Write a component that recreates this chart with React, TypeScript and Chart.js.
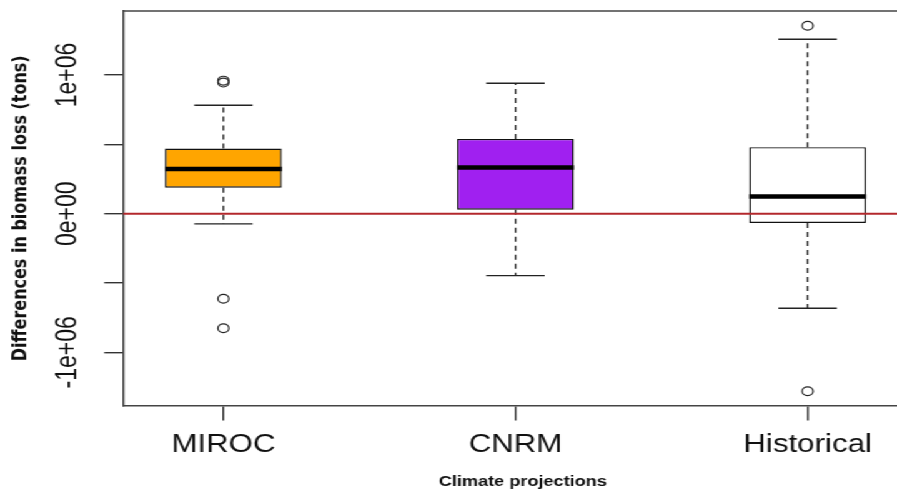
import React, { useEffect, useRef } from 'react';
import { Chart, registerables } from 'chart.js';

Chart.register(...registerables);

// ---- data ----
const categories = ['MIROC', 'CNRM', 'Historical'];
const positions = [1, 2, 3];
const lowerWhisker = [-74000, -447000, -682000];
const q1 = [187000, 29000, -67000];
const median = [322000, 332000, 123000];
const q3 = [469000, 539000, 479000];
const upperWhisker = [782000, 940000, 1257000];
const outliersMIROC = [959000, 945000, -613000, -826000];
const outliersCNRM: number[] = [];
const outliersHistorical = [1355000, -1280000];
const boxColors = ['#FFA500', '#A020F0', '#FFFFFF'];
const yTickValues = [-1000000, -500000, 0, 500000, 1000000];
const yTickLabels = ['-1e+06', '', '0e+00', '', '1e+06'];
const referenceValue = 0;
const xTitle = 'Climate projections';
const yTitle = 'Differences in biomass loss (tons)';

// ---- axis limits / geometry (not data) ----
const X_MIN = 0.656;
const X_MAX = 3.306;
const Y_MIN = -1383000;
const Y_MAX = 1461000;
const BOX_HALF = 0.2;
const CAP_HALF = 0.1;
const CANVAS_W = 718;
const CANVAS_H = 492;
const STRETCH = 897 / CANVAS_W;

const outlierGroups = [outliersMIROC, outliersCNRM, outliersHistorical];

const framePlugin = {
  id: 'framePlugin',
  afterDraw(chart: any) {
    const { ctx, chartArea, scales } = chart;
    ctx.save();
    // top frame line
    ctx.strokeStyle = '#444';
    ctx.lineWidth = 1.5;
    ctx.beginPath();
    ctx.moveTo(chartArea.left, chartArea.top);
    ctx.lineTo(chartArea.right, chartArea.top);
    ctx.stroke();
    // rotated y tick labels
    ctx.fillStyle = '#111';
    ctx.font = '23px "Liberation Sans", Arial, sans-serif';
    ctx.textAlign = 'center';
    ctx.textBaseline = 'middle';
    yTickValues.forEach((v, i) => {
      const label = yTickLabels[i];
      if (!label) return;
      const py = scales.y.getPixelForValue(v);
      ctx.save();
      ctx.translate(chartArea.left - 44, py);
      ctx.rotate(-Math.PI / 2);
      ctx.fillText(label, 0, 0);
      ctx.restore();
    });
    // x title
    ctx.font = 'bold 14.5px "Liberation Sans", Arial, sans-serif';
    ctx.fillStyle = '#111';
    ctx.textAlign = 'center';
    ctx.textBaseline = 'alphabetic';
    ctx.fillText(xTitle, 418.5, 486);
    ctx.restore();
  },
};

export default function App() {
  const canvasRef = useRef<HTMLCanvasElement | null>(null);

  useEffect(() => {
    const canvas = canvasRef.current;
    if (!canvas) return;

    const boxData = positions.map((p, i) => ({ x: p, y: [q1[i], q3[i]] }));
    const whiskerData: any[] = [];
    const capData: any[] = [];
    const medianData: any[] = [];
    const outlierData: any[] = [];
    positions.forEach((p, i) => {
      whiskerData.push({ x: p, y: q3[i] }, { x: p, y: upperWhisker[i] }, { x: p, y: null });
      whiskerData.push({ x: p, y: q1[i] }, { x: p, y: lowerWhisker[i] }, { x: p, y: null });
      capData.push({ x: p - CAP_HALF, y: upperWhisker[i] }, { x: p + CAP_HALF, y: upperWhisker[i] }, { x: p, y: null });
      capData.push({ x: p - CAP_HALF, y: lowerWhisker[i] }, { x: p + CAP_HALF, y: lowerWhisker[i] }, { x: p, y: null });
      medianData.push({ x: p - BOX_HALF, y: median[i] }, { x: p + BOX_HALF, y: median[i] }, { x: p, y: null });
      outlierGroups[i].forEach((v) => outlierData.push({ x: p, y: v }));
    });

    const chart = new Chart(canvas, {
      type: 'bar',
      data: {
        datasets: [
          {
            type: 'bar',
            data: boxData as any,
            backgroundColor: boxColors,
            borderColor: '#111',
            borderWidth: 1.4,
            borderSkipped: false,
            categoryPercentage: 2 * BOX_HALF,
            barPercentage: 1,
            order: 3,
          } as any,
          {
            type: 'line',
            data: whiskerData,
            borderColor: '#222',
            borderWidth: 1.3,
            borderDash: [5, 4],
            pointRadius: 0,
            spanGaps: false,
            order: 5,
          } as any,
          {
            type: 'line',
            data: capData,
            borderColor: '#222',
            borderWidth: 1.4,
            pointRadius: 0,
            spanGaps: false,
            order: 4,
          } as any,
          {
            type: 'line',
            data: medianData,
            borderColor: '#000',
            borderWidth: 4.5,
            borderCapStyle: 'butt',
            pointRadius: 0,
            spanGaps: false,
            order: 2,
          } as any,
          {
            type: 'scatter',
            data: outlierData,
            pointRadius: 4.4,
            pointBorderWidth: 1.2,
            pointBorderColor: '#222',
            pointBackgroundColor: 'rgba(255,255,255,0)',
            order: 1,
          } as any,
          {
            type: 'line',
            data: [
              { x: X_MIN, y: referenceValue },
              { x: X_MAX, y: referenceValue },
            ],
            borderColor: '#B3282C',
            borderWidth: 2,
            pointRadius: 0,
            order: 0,
          } as any,
        ],
      },
      options: {
        animation: false,
        responsive: false,
        maintainAspectRatio: false,
        devicePixelRatio: 1,
        layout: { autoPadding: false, padding: { top: 11, left: 0, right: 0, bottom: 0 } },
        plugins: {
          legend: { display: false },
          tooltip: { enabled: false },
        },
        scales: {
          x: {
            type: 'linear',
            min: X_MIN,
            max: X_MAX,
            offset: false,
            afterBuildTicks: (s: any) => {
              s.ticks = positions.map((v) => ({ value: v }));
            },
            afterFit: (s: any) => {
              s.height = 86.5;
              s.paddingLeft = 0;
              s.paddingRight = 0;
            },
            ticks: {
              autoSkip: false,
              maxRotation: 0,
              minRotation: 0,
              padding: 10,
              color: '#111',
              font: { family: '"Liberation Sans", Arial, sans-serif', size: 25 },
              callback: (v: any) => {
                const idx = positions.indexOf(Number(v));
                return idx >= 0 ? categories[idx] : '';
              },
            },
            grid: {
              drawOnChartArea: false,
              drawTicks: true,
              tickLength: 15,
              color: '#333',
              lineWidth: 1.4,
              offset: false,
            },
            border: { display: true, color: '#444', width: 1.5 },
          } as any,
          y: {
            type: 'linear',
            min: Y_MIN,
            max: Y_MAX,
            afterBuildTicks: (s: any) => {
              s.ticks = yTickValues.map((v) => ({ value: v }));
            },
            afterFit: (s: any) => {
              s.width = 98.4;
              s.paddingTop = 0;
              s.paddingBottom = 0;
            },
            ticks: { display: false },
            grid: {
              drawOnChartArea: false,
              drawTicks: true,
              tickLength: 15,
              color: '#333',
              lineWidth: 1.4,
            },
            border: { display: true, color: '#444', width: 1.5 },
            title: {
              display: true,
              text: yTitle,
              color: '#111',
              font: { family: '"DejaVu Sans", sans-serif', size: 16, weight: 'bold' },
              padding: { top: 7, bottom: 0 },
            },
          } as any,
        },
      },
      plugins: [framePlugin],
    });

    return () => chart.destroy();
  }, []);

  return (
    <div
      style={{
        position: 'fixed',
        left: 0,
        top: 0,
        width: CANVAS_W,
        height: CANVAS_H,
        background: '#fff',
        transform: `scale(${STRETCH}, 1)`,
        transformOrigin: '0 0',
      }}
    >
      <canvas
        ref={canvasRef}
        width={CANVAS_W}
        height={CANVAS_H}
        style={{ display: 'block', width: CANVAS_W, height: CANVAS_H }}
      />
    </div>
  );
}
